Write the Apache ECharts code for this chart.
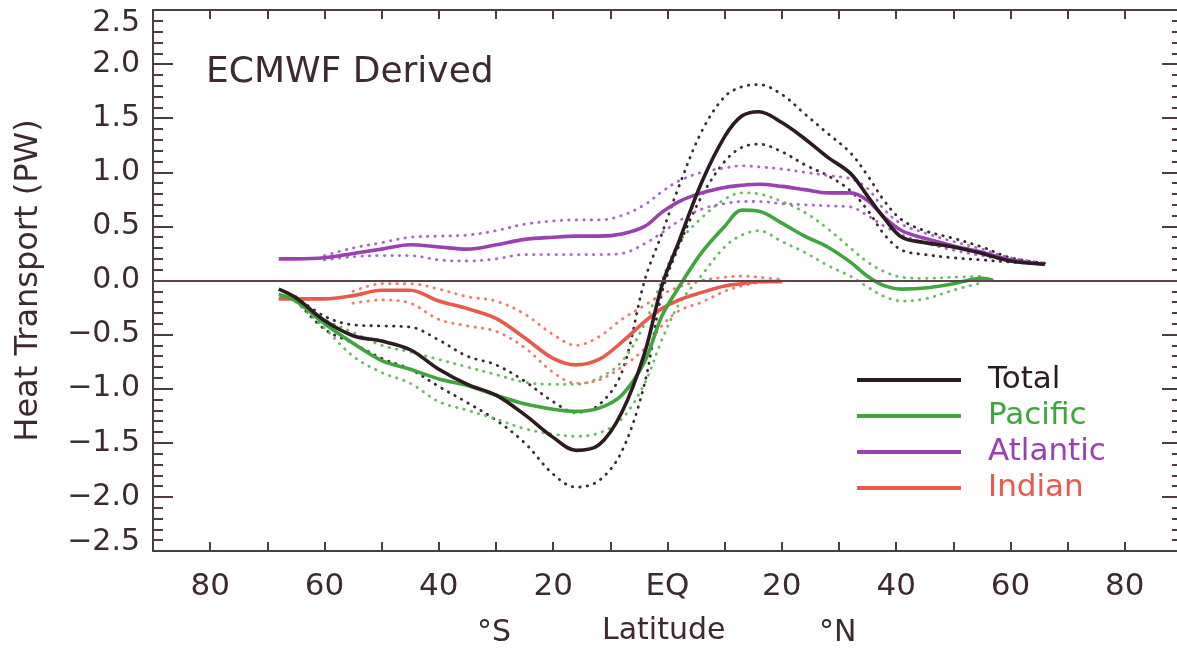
<!DOCTYPE html>
<html>
<head>
<meta charset="utf-8">
<script src="https://cdn.jsdelivr.net/npm/echarts@6/dist/echarts.min.js"></script>
<style>
html,body{margin:0;padding:0;background:#fff;}
#chart{width:1177px;height:648px;}
</style>
</head>
<body>
<div id="chart"></div>
<script>
// Latitude (negative = °S, positive = °N)
const latTotal = [-68,-65,-60,-55,-50,-45,-40,-35,-30,-25,-20,-16,-12,-8,-4,-1,2,6,10,13,16,20,24,28,32,35,38,41,45,50,55,60,66];
const totalMean = [-0.08,-0.16,-0.37,-0.51,-0.56,-0.64,-0.82,-0.96,-1.06,-1.24,-1.45,-1.57,-1.52,-1.22,-0.67,-0.05,0.36,0.91,1.33,1.52,1.56,1.46,1.31,1.14,0.99,0.78,0.57,0.40,0.35,0.31,0.25,0.18,0.15];
const totalHi = [null,-0.15,-0.33,-0.41,-0.42,-0.43,-0.55,-0.70,-0.78,-0.93,-1.12,-1.22,-1.15,-0.85,0.0,0.43,0.87,1.38,1.70,1.79,1.81,1.72,1.54,1.36,1.18,0.97,0.73,0.56,0.46,0.39,0.31,0.21,0.16];
const totalLo = [null,-0.18,-0.45,-0.58,-0.72,-0.82,-0.98,-1.13,-1.29,-1.50,-1.79,-1.91,-1.85,-1.58,-0.95,-0.12,0.32,0.78,1.10,1.23,1.26,1.19,1.07,0.97,0.83,0.65,0.42,0.28,0.24,0.21,0.19,0.17,0.15];

const latPacific = [-68,-65,-60,-55,-50,-45,-40,-35,-30,-25,-20,-16,-12,-8,-4,-1,2,6,10,13,16,20,24,28,32,35,38,41,45,50,55,57];
const pacificMean = [-0.13,-0.19,-0.40,-0.58,-0.74,-0.82,-0.91,-0.97,-1.06,-1.14,-1.19,-1.21,-1.18,-1.06,-0.75,-0.33,-0.06,0.26,0.50,0.65,0.64,0.53,0.41,0.31,0.17,0.04,-0.05,-0.08,-0.07,-0.03,0.02,0.0];
const pacificHi = [null,-0.18,-0.36,-0.48,-0.60,-0.66,-0.73,-0.80,-0.87,-0.94,-0.96,-0.96,-0.90,-0.75,-0.40,0.0,0.35,0.58,0.75,0.81,0.80,0.73,0.63,0.48,0.30,0.17,0.08,0.03,0.02,0.03,0.04,null];
const pacificLo = [null,-0.20,-0.44,-0.70,-0.85,-0.95,-1.12,-1.20,-1.28,-1.37,-1.42,-1.44,-1.41,-1.28,-0.95,-0.55,-0.22,0.05,0.31,0.42,0.46,0.36,0.26,0.14,0.04,-0.06,-0.15,-0.19,-0.17,-0.09,-0.02,null];

const latAtlantic = [-68,-65,-60,-55,-50,-45,-40,-35,-30,-25,-20,-16,-12,-8,-4,-1,2,6,10,13,16,20,24,28,32,35,38,41,45,50,55,60,66];
const atlanticMean = [0.20,0.20,0.21,0.25,0.29,0.33,0.31,0.29,0.33,0.38,0.40,0.41,0.41,0.43,0.50,0.63,0.73,0.81,0.86,0.88,0.89,0.87,0.84,0.81,0.81,0.74,0.58,0.46,0.39,0.32,0.26,0.19,0.15];
const atlanticHi = [null,null,0.23,0.30,0.35,0.40,0.41,0.42,0.46,0.52,0.55,0.56,0.56,0.60,0.70,0.82,0.92,1.00,1.04,1.06,1.05,1.03,1.00,0.97,0.94,0.85,0.65,0.52,0.44,0.36,0.29,0.21,0.16];
const atlanticLo = [null,null,0.19,0.22,0.23,0.23,0.19,0.18,0.20,0.24,0.24,0.24,0.24,0.25,0.34,0.44,0.55,0.66,0.71,0.73,0.73,0.71,0.70,0.69,0.68,0.60,0.50,0.42,0.35,0.28,0.23,0.18,0.15];

const latIndian = [-68,-65,-60,-55,-50,-45,-40,-35,-30,-25,-20,-16,-12,-8,-4,-1,2,6,10,13,16,20];
const indianMean = [-0.17,-0.17,-0.17,-0.14,-0.09,-0.09,-0.19,-0.26,-0.35,-0.53,-0.72,-0.78,-0.73,-0.57,-0.38,-0.26,-0.18,-0.11,-0.05,-0.03,-0.01,-0.01];
const indianHi = [null,null,null,-0.10,-0.03,-0.03,-0.08,-0.15,-0.19,-0.31,-0.50,-0.60,-0.52,-0.36,-0.23,-0.13,-0.06,0.0,0.03,0.04,0.03,0.01];
const indianLo = [null,null,null,-0.21,-0.18,-0.21,-0.36,-0.42,-0.47,-0.62,-0.85,-0.95,-0.92,-0.80,-0.63,-0.42,-0.28,-0.20,-0.10,-0.05,-0.02,0.0];

const seriesNames = ['Total','Pacific','Atlantic','Indian'];
const yTicks = [-2.5,-2.0,-1.5,-1.0,-0.5,0.0,0.5,1.0,1.5,2.0,2.5];

const colors = {Total:'#2c1b20', Pacific:'#3fa63c', Atlantic:'#9a40b0', Indian:'#ea5a4c'};
const dotColors = {Total:'#3a2c33', Pacific:'#68bd63', Atlantic:'#a868c4', Indian:'#ef7a68'};
const axisColor = '#4e3c40';
const textColor = '#3c2a2f';
const FONT = 'DejaVu Sans';

function pairs(lat, vals){
  return lat.map((x,i)=>[x, vals[i]]);
}

const groups = [
  ['Total', latTotal, totalMean, totalHi, totalLo],
  ['Pacific', latPacific, pacificMean, pacificHi, pacificLo],
  ['Atlantic', latAtlantic, atlanticMean, atlanticHi, atlanticLo],
  ['Indian', latIndian, indianMean, indianHi, indianLo]
];

const series = [];
groups.forEach(([name, lat, mean, hi, lo])=>{
  [hi, lo].forEach((band, k)=>{
    series.push({
      name: name + (k===0 ? ' upper' : ' lower'),
      type:'line', data: pairs(lat, band), smooth:0.35, showSymbol:false, symbol:'none',
      connectNulls:false, silent:true, z:2,
      lineStyle:{color:dotColors[name], width:2.8, type:[0.5,7], cap:'round'}
    });
  });
});
groups.slice().reverse().forEach(([name, lat, mean])=>{
  series.push({
    name: name, type:'line', data: pairs(lat, mean), smooth:0.35, showSymbol:false, symbol:'none',
    silent:true, z:4,
    itemStyle:{color:colors[name]},
    lineStyle:{color:colors[name], width:3.6}
  });
});
series.push({
  name:'zero', type:'line', data:[], silent:true, z:3,
  markLine:{silent:true, symbol:'none', label:{show:false},
    lineStyle:{color:'#5a464a', width:2, type:'solid'},
    data:[{yAxis:0}]}
});

const xCommon = {
  type:'value', min:-90, max:90, interval:10,
  axisLine:{show:true, onZero:false, lineStyle:{color:axisColor, width:2}},
  axisTick:{show:true, inside:true, length:9, lineStyle:{color:axisColor, width:2}},
  splitLine:{show:false}
};
const yCommon = {
  type:'value', min:-2.5, max:2.5, interval:0.5,
  axisLine:{show:true, onZero:false, lineStyle:{color:axisColor, width:2}},
  axisTick:{show:true, inside:true, length:20, lineStyle:{color:axisColor, width:2}},
  minorTick:{show:true, splitNumber:5, length:10, lineStyle:{color:axisColor, width:2}},
  splitLine:{show:false}, minorSplitLine:{show:false}
};

function yLabel(v){
  const t = yTicks.find(y=>Math.abs(y-v)<1e-6);
  if (t===undefined) return '';
  const s = (t<0 ? '\u2212' : '') + Math.abs(t).toFixed(1);
  if (t===yTicks[yTicks.length-1]) return '{top|' + s + '}';
  if (t===yTicks[0]) return '{bot|' + s + '}';
  return s;
}

const option = {
  animation:false,
  backgroundColor:'#ffffff',
  grid:{left:153, top:10, width:1029, bottom:97, containLabel:false, outerBoundsMode:'none'},
  xAxis:[
    Object.assign({}, xCommon, {position:'bottom',
      axisLabel:{show:true, margin:20, fontSize:31, color:textColor, fontFamily:FONT,
        formatter:(v)=>{ if (Math.abs(v)>=90 || Math.round(v)%20!==0) return ''; if (v===0) return 'EQ'; return String(Math.abs(v)); }}}),
    Object.assign({}, xCommon, {position:'top', axisLabel:{show:false}})
  ],
  yAxis:[
    Object.assign({}, yCommon, {position:'left',
      name:'Heat Transport (PW)', nameLocation:'middle', nameRotate:90, nameGap:108,
      nameTextStyle:{fontSize:32, color:textColor, fontFamily:FONT},
      axisLabel:{show:true, margin:13, fontSize:30, color:textColor, fontFamily:FONT,
        formatter:yLabel,
        rich:{
          top:{fontSize:30, color:textColor, fontFamily:FONT, padding:[26,0,0,0]},
          bot:{fontSize:30, color:textColor, fontFamily:FONT, padding:[0,0,18,0]}
        }}}),
    Object.assign({}, yCommon, {position:'right', axisLabel:{show:false}})
  ],
  legend:{
    show:true, orient:'vertical', left:852, top:357, itemGap:0,
    itemWidth:104, itemHeight:4, icon:'rect', selectedMode:false,
    textStyle:{fontSize:31, lineHeight:36, fontFamily:FONT, padding:[0,0,0,22]},
    data:seriesNames.map(n=>({name:n, textStyle:{color:colors[n]}}))
  },
  graphic:[
    {type:'text', left:206, top:55, style:{text:'ECMWF Derived', fontSize:36, fill:textColor, fontFamily:FONT}},
    {type:'text', left:477, top:618, style:{text:'°S', fontSize:30, fill:textColor, fontFamily:FONT}},
    {type:'text', left:602, top:616, style:{text:'Latitude', fontSize:30, fill:textColor, fontFamily:FONT}},
    {type:'text', left:819, top:618, style:{text:'°N', fontSize:30, fill:textColor, fontFamily:FONT}}
  ],
  series: series
};

const chart = echarts.init(document.getElementById('chart'), null, {renderer:'canvas'});
chart.setOption(option);
</script>
</body>
</html>
